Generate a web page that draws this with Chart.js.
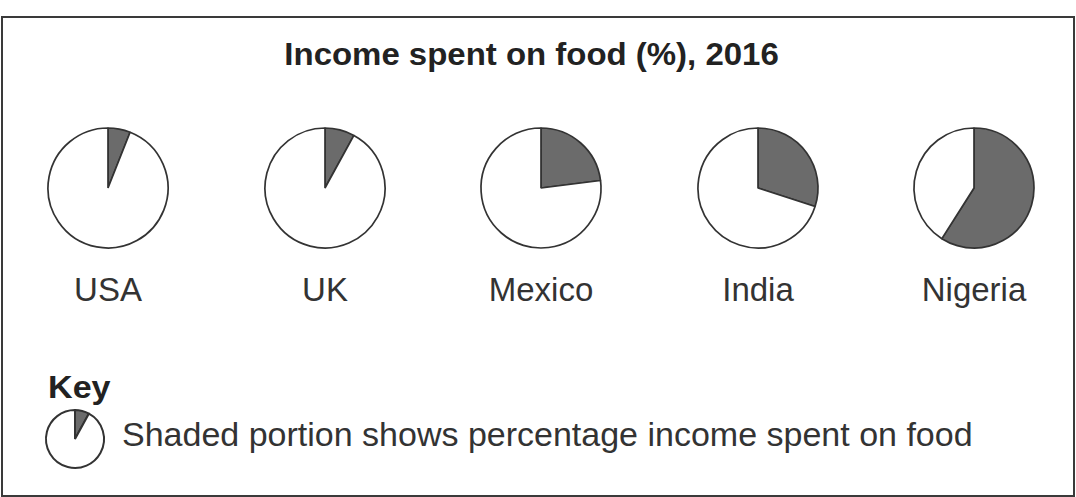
<!DOCTYPE html>
<html>
<head>
<meta charset="utf-8">
<script src="https://cdn.jsdelivr.net/npm/chart.js@4"></script>
<style>
  body { margin:0; background:#fff; }
  #wrap { position:relative; width:1076px; height:497px; overflow:hidden; font-family:"Liberation Sans", Arial, sans-serif; color:#333; }
  #frame { position:absolute; left:1px; top:16px; width:1070px; height:477px; border:2px solid #3a3a3a; }
  .txt { position:absolute; white-space:nowrap; line-height:1; }
  .pie { position:absolute; }
  #title { left:0; width:1063px; text-align:center; top:39px; font-size:31px; font-weight:bold; color:#222; transform:scaleX(1.063); transform-origin:531px 0; }
  .label { width:200px; text-align:center; top:273px; font-size:33px; }
  #keyHead { left:48px; top:372px; font-size:31px; font-weight:bold; color:#222; transform:scaleX(1.1); transform-origin:0 0; }
  #keyText { left:122px; top:417px; font-size:34px; }
</style>
</head>
<body>
<div id="wrap">
  <div id="frame"></div>
  <div id="title" class="txt">Income spent on food (%), 2016</div>
  <div id="keyHead" class="txt">Key</div>
  <div id="keyText" class="txt">Shaded portion shows percentage income spent on food</div>
</div>
<script>
// =====================
// DATA
// =====================
const countries = ["USA", "UK", "Mexico", "India", "Nigeria"]
const foodShare = [6, 8, 23, 30, 59]      // % of income spent on food
const keyShare = 8                        // wedge in the key icon
const pieCentersX = [108, 325, 541, 758, 974]

// =====================
// PIE HELPER
// =====================
function makePie(share, cx, cy, r, bw){
  const size = r * 2 + 10
  const c = document.createElement("canvas")
  c.className = "pie"
  c.width = size
  c.height = size
  c.style.left = (cx - size / 2) + "px"
  c.style.top = (cy - size / 2) + "px"
  document.getElementById("wrap").appendChild(c)

  new Chart(c, {
    type: "pie",
    data: {
      labels: ["Food", "Other"],
      datasets: [{
        data: [share, 100 - share],
        backgroundColor: ["#6b6b6b", "#ffffff"],
        borderColor: "#333333",
        borderWidth: bw
      }]
    },
    options: {
      responsive: false,
      animation: false,
      radius: r,
      layout: { padding: 0 },
      plugins: { legend: { display: false }, tooltip: { enabled: false } }
    }
  })
}

// =====================
// DRAW
// =====================
countries.forEach((name, i) => {
  makePie(foodShare[i], pieCentersX[i], 188, 60, 1.7)

  let lab = document.createElement("div")
  lab.className = "txt label"
  lab.textContent = name
  lab.style.left = (pieCentersX[i] - 100) + "px"
  document.getElementById("wrap").appendChild(lab)
})

// key icon
makePie(keyShare, 75, 439, 29, 2)
</script>
</body>
</html>
